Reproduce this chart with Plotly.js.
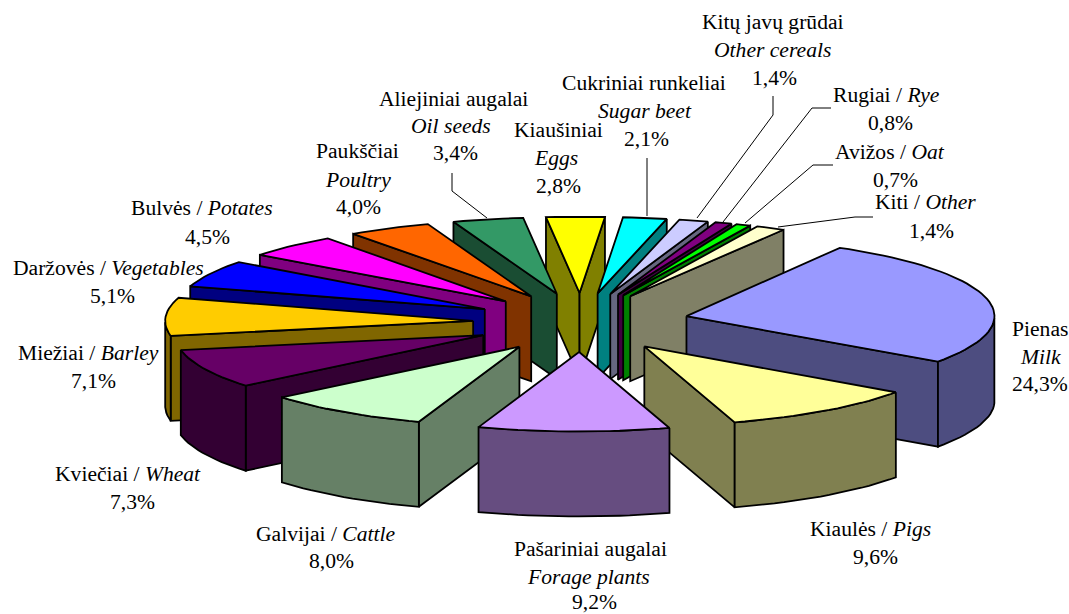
<!DOCTYPE html>
<html><head><meta charset="utf-8">
<script src="https://cdn.plot.ly/plotly-3.0.1.min.js"></script>
<style>html,body{margin:0;padding:0;background:#fff}</style></head>
<body><div id="chart" style="width:1069px;height:614px"></div>
<script>
// ---- data (clockwise, starting at Milk)
const categoriesLt = ["Pienas","Kiaulės","Pašariniai augalai","Galvijai","Kviečiai","Miežiai","Daržovės","Bulvės","Paukščiai","Aliejiniai augalai","Kiaušiniai","Cukriniai runkeliai","Kitų javų grūdai","Rugiai","Avižos","Kiti"];
const categoriesEn = ["Milk","Pigs","Forage plants","Cattle","Wheat","Barley","Vegetables","Potates","Poultry","Oil seeds","Eggs","Sugar beet","Other cereals","Rye","Oat","Other"];
const values = [24.3,9.6,9.2,8.0,7.3,7.1,5.1,4.5,4.0,3.4,2.8,2.1,1.4,0.8,0.7,1.4];
const topColors = ["#9999FF","#FFFF99","#CC99FF","#CCFFCC","#660066","#FFCC00","#0000FF","#FF00FF","#FF6600","#339966","#FFFF00","#00FFFF","#CCCCFF","#800080","#00FF00","#FFFFCC"];
const wallColors = ["#4D4D80","#808050","#664D80","#668066","#330033","#806600","#000080","#800080","#803300","#1A4D33","#808000","#008080","#666680","#400040","#008000","#808066"];
// one-line labels join name and English with " / "; others stack
const stacked = [true,false,true,false,false,false,false,false,true,true,true,true,true,false,false,false];
// label anchor (centre x, line y) for each category
const labelX = [[1040,1040,1040],[870,875],[590,588,594],[326,331],[128,132],[88,93],[108,112],[202,207],[357,358,358],[453,451,455],[558,556,558],[644,645,646],[773,772,774],[886,890],[890,895],[925,931]];
const labelY = [[329,357,384],[529,557],[549,577,602],[534,561],[474,502],[353,381],[268,296],[208,237],[151,180,207],[99,126,153],[130,158,186],[83,111,139],[22,50,78],[95,123],[152,180],[202,231]];
const leaderLines = [
  {x:[773,773,697],y:[96,115,218]},
  {x:[831,812,723],y:[108,108,222]},
  {x:[833,813,745],y:[165,165,223]},
  {x:[873,855,778],y:[217,217,227]},
  {x:[647,647],y:[158,216]},
  {x:[452,452,487],y:[173,191,218]}
];

// ---- pie geometry
const CX=581, CY=322.5, R=308, K=0.258, DEPTH=85, EX=108, EY=29.5, ROT=1;
const total = values.reduce((a,b)=>a+b,0);
const rad = d=>d*Math.PI/180;
let acc = values.slice(0,2).reduce((a,b)=>a+b,0)+values[2]/2; // Forage is centred at the bottom
let cur = 180+ROT-acc/total*360;
const slices = values.map((v,i)=>{const a=cur,b=cur+v/total*360;cur=b;return{i,a,b};});

const traces=[];
function poly(xs,ys,fill){
  traces.push({type:'scatter',mode:'lines',x:xs.concat(xs[0]),y:ys.concat(ys[0]),fill:'toself',fillcolor:fill,
    line:{color:'#000',width:1.8,shape:'linear'},hoverinfo:'skip',showlegend:false});
}
function drawSlice(s){
  const m=(s.a+s.b)/2;
  const ox=CX+EX*Math.sin(rad(m)), oy=CY-EY*Math.cos(rad(m));
  const k=K*(1-0.04*Math.max(0,Math.cos(rad(m))));
  const px=t=>ox+R*Math.sin(rad(t)), py=t=>oy-R*k*Math.cos(rad(t));
  const n=Math.max(4,Math.ceil((s.b-s.a)/2));
  const arc=[];for(let j=0;j<=n;j++)arc.push(s.a+(s.b-s.a)*j/n);
  // walls
  if(Math.sin(rad(s.a))<0) poly([ox,px(s.a),px(s.a),ox],[oy,py(s.a),py(s.a)+DEPTH,oy+DEPTH],wallColors[s.i]);
  if(Math.sin(rad(s.b))>0) poly([ox,px(s.b),px(s.b),ox],[oy,py(s.b),py(s.b)+DEPTH,oy+DEPTH],wallColors[s.i]);
  const front=arc.filter(t=>Math.cos(rad(t))<0);
  if(front.length>1){
    const xs=front.map(px), ys=front.map(py);
    poly(xs.concat(xs.slice().reverse()),ys.concat(ys.slice().reverse().map(y=>y+DEPTH)),wallColors[s.i]);
  }
  // top
  poly([ox].concat(arc.map(px)),[oy].concat(arc.map(py)),topColors[s.i]);
}
slices.slice().sort((p,q)=>{
  const d=s=>{const m=(((s.a+s.b)/2)%360+360)%360;return Math.min(m,360-m);};
  return d(p)-d(q);
}).forEach(drawSlice);

leaderLines.forEach(l=>traces.push({type:'scatter',mode:'lines',x:l.x,y:l.y,line:{color:'#000',width:1},hoverinfo:'skip',showlegend:false}));

// ---- labels
const pct=v=>v.toFixed(1).replace('.',',')+'%';
const annotations=[];
categoriesLt.forEach((c,i)=>{
  const lines=stacked[i]?[c,'<i>'+categoriesEn[i]+'</i>',pct(values[i])]:[c+' / <i>'+categoriesEn[i]+'</i>',pct(values[i])];
  lines.forEach((t,j)=>annotations.push({text:t,x:labelX[i][j],y:labelY[i][j],xref:'x',yref:'y',showarrow:false,xanchor:'center',yanchor:'middle',
    font:{family:'"Liberation Serif",serif',size:21.6,color:'#000'}}));
});

Plotly.newPlot('chart',traces,{
  width:1069,height:614,margin:{l:0,r:0,t:0,b:0},paper_bgcolor:'#fff',plot_bgcolor:'#fff',showlegend:false,
  xaxis:{range:[0,1069],visible:false,fixedrange:true},
  yaxis:{range:[614,0],visible:false,fixedrange:true},
  annotations
},{displayModeBar:false,staticPlot:true});
</script></body></html>
